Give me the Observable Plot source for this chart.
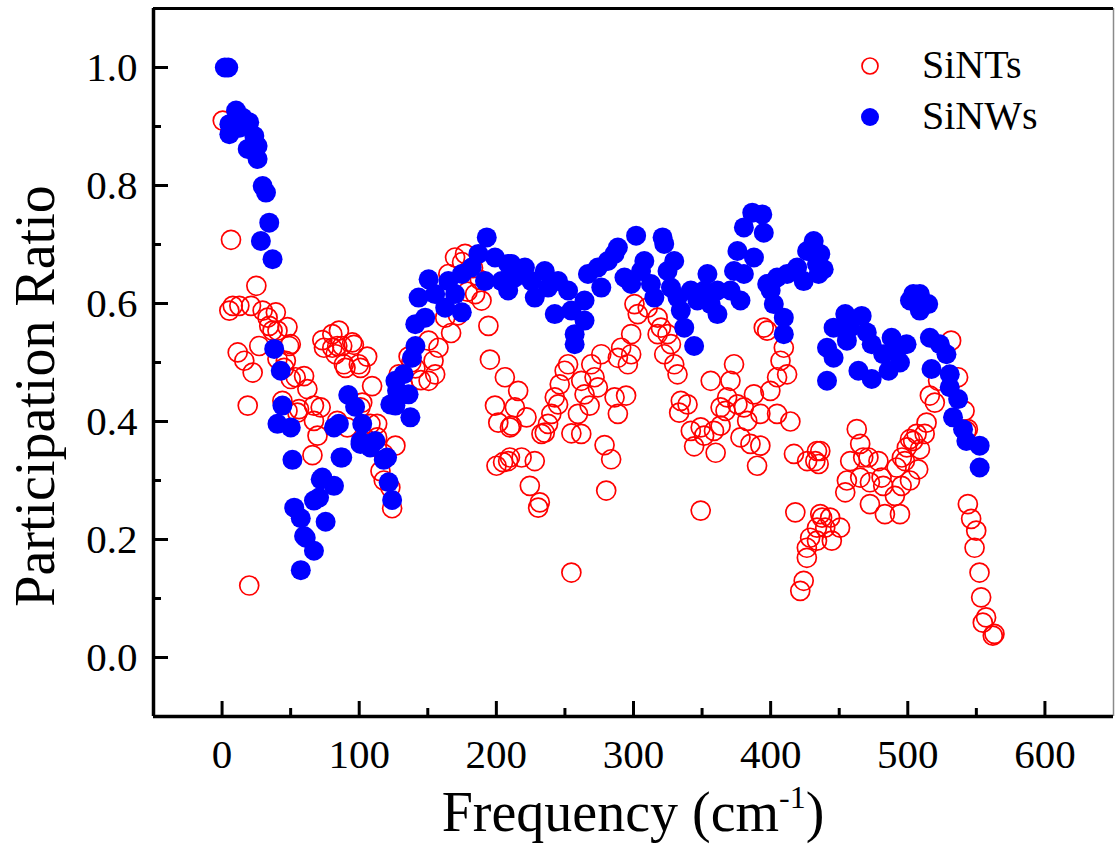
<!DOCTYPE html>
<html><head><meta charset="utf-8">
<script src="https://cdn.jsdelivr.net/npm/d3@7"></script>
<script src="https://cdn.jsdelivr.net/npm/@observablehq/plot@0.6"></script>
<style>
body{margin:0;background:#fff;}
#chart{position:relative;width:1115px;height:849px;}
#chart svg, #chart svg text{font-family:'Liberation Serif','Times New Roman',serif;}
</style></head><body><div id="chart"></div>
<script>
// SiNTs (open red circles)
const sintsFreq = [0.5,6.5,25,5.3,7.8,12.6,21.1,29.6,39.2,33.2,34.4,36.8,40.4,47.7,50.1,27.1,11.4,16.2,22.3,40.4,45.2,50.1,59.8,62.2,53.7,54.9,47.7,44.0,56.1,67.0,71.9,67.0,69.6,65.9,18.7,73.1,80.4,85.2,84.0,80.4,74.3,87.6,94.9,96.1,88.8,82.8,90.0,99.7,100.9,105.8,109.4,102.2,100.9,108.2,113.1,113.1,117.9,126.4,115.5,117.9,122.7,124.0,84.0,91.3,19.8,128.8,150.6,155.4,154.2,157.8,150.6,162.7,165.0,169.9,177.2,184.5,189.2,194.2,195.3,206.2,199.0,201.4,209.9,200.1,204.9,209.9,215.9,213.5,222.0,211.1,218.4,228.0,208.6,224.4,231.7,230.5,235.3,237.7,240.1,245.0,242.6,246.2,249.8,252.3,232.9,254.7,261.9,259.5,268.0,264.3,261.9,269.2,271.6,274.0,276.5,278.9,283.7,280.1,254.7,286.2,294.6,288.6,288.6,291.0,295.9,298.3,298.3,300.7,303.1,310.4,317.6,320.0,317.6,324.8,322.4,327.3,329.7,332.1,334.5,339.4,333.3,341.8,349.0,344.2,351.5,358.7,363.5,359.9,356.3,373.3,370.7,368.3,363.5,367.1,375.8,380.5,387.8,382.9,392.5,404.7,414.4,378.0,385.3,392.5,390.1,399.8,404.7,412.0,407.2,397.5,395.0,409.6,417.0,433.8,426.6,432.6,349.0,418.0,437.5,433.8,428.8,426.4,426.4,424.1,421.6,531.6,536.7,522.1,516.1,519.7,513.7,506.4,501.6,508.9,499.3,495.7,507.6,491.8,541.4,543.8,462.8,465.3,471.3,478.6,458.0,436.2,435.0,467.5,455.6,454.4,465.3,472.4,480.9,482.1,472.4,483.3,494.3,490.6,495.5,501.6,497.9,503.9,512.3,436.2,443.4,450.6,439.8,444.6,433.8,542.7,543.8,546.2,549.9,548.7,552.3,553.5,557.1,554.7,563.2,562.0,167,172,179,183,175,188,138,132,46.5,48.9,141,145,136];
const sintsPR = [0.910,0.708,0.630,0.588,0.596,0.596,0.596,0.588,0.585,0.576,0.562,0.554,0.554,0.560,0.531,0.528,0.517,0.503,0.483,0.506,0.491,0.472,0.477,0.455,0.475,0.415,0.418,0.435,0.421,0.427,0.424,0.401,0.376,0.343,0.427,0.538,0.548,0.554,0.528,0.525,0.525,0.528,0.534,0.530,0.497,0.514,0.491,0.497,0.491,0.510,0.460,0.432,0.424,0.396,0.396,0.373,0.345,0.359,0.316,0.300,0.288,0.253,0.401,0.390,0.122,0.480,0.469,0.480,0.503,0.525,0.537,0.576,0.650,0.678,0.684,0.616,0.605,0.562,0.505,0.475,0.427,0.398,0.390,0.325,0.331,0.339,0.452,0.424,0.407,0.393,0.339,0.333,0.333,0.291,0.263,0.254,0.381,0.396,0.413,0.429,0.441,0.463,0.486,0.497,0.379,0.380,0.379,0.413,0.427,0.446,0.469,0.497,0.475,0.458,0.514,0.360,0.336,0.283,0.144,0.441,0.444,0.413,0.508,0.525,0.497,0.514,0.548,0.599,0.582,0.593,0.576,0.559,0.548,0.548,0.514,0.531,0.497,0.480,0.435,0.429,0.415,0.384,0.390,0.358,0.376,0.384,0.393,0.347,0.469,0.497,0.469,0.441,0.424,0.418,0.429,0.424,0.446,0.401,0.413,0.413,0.400,0.373,0.362,0.359,0.325,0.452,0.475,0.480,0.503,0.554,0.559,0.525,0.345,0.350,0.333,0.333,0.249,0.246,0.237,0.220,0.203,0.186,0.169,0.130,0.113,0.537,0.475,0.469,0.444,0.432,0.398,0.379,0.370,0.353,0.356,0.339,0.319,0.322,0.418,0.387,0.387,0.362,0.339,0.333,0.333,0.350,0.328,0.339,0.300,0.280,0.305,0.297,0.305,0.291,0.260,0.243,0.243,0.274,0.291,0.300,0.333,0.367,0.379,0.243,0.237,0.220,0.220,0.198,0.198,0.384,0.260,0.235,0.215,0.186,0.144,0.102,0.068,0.059,0.040,0.037,0.550,0.580,0.620,0.660,0.670,0.640,0.500,0.460,0.503,0.528,0.490,0.470,0.510];

// SiNWs (filled blue dots)
const sinwsFreq = [2,4.5,10.2,5.3,5.3,15,19.8,12.6,23.5,25.9,18.7,25.9,29.6,32,34.4,28.3,36.8,38,42.8,44,40.4,50.1,51.3,92,81.6,97,101,86.4,108,117.9,121.5,124,126.4,122.7,71.9,67,52.6,57.4,75.5,59.8,67,57.4,81.6,85.2,102.2,87.6,100.9,111.8,120.3,73.1,70.7,61,141,138.5,132.4,127.6,136,126.4,137.3,193,186.9,199,208.6,182,174.8,165,150.6,191.7,203.8,208.6,155.4,143.3,169.9,162.7,174.8,148.1,140.9,211,213.5,220.8,225.6,228,235.3,237.7,245,242.6,252.3,254.7,264.3,264.3,257.1,257.1,266.8,274,276.5,281.3,288.6,286.2,301.9,293.4,298.3,307.9,305.5,312.7,315.2,321.2,322.4,329.7,324.8,327.3,332.1,334.5,337,344.2,341.8,346.6,353.9,351.5,361.2,361.2,356.3,370.7,378,373.3,375.8,380.5,387.8,380.5,386.6,393.9,395,397.5,400,402.3,409.6,409.6,404.7,412,419.3,424.1,426.6,431.4,433.8,441.1,441.1,436.2,438.7,435,504,508.8,501.6,514.9,508.8,454.4,466.4,445.9,458,470.1,445.9,455.6,473.7,488.2,499.1,491.8,482.1,494.3,464,473.7,486,516.1,523.4,528.2,517.3,530.6,530.6,536.7,533,540.3,542.7,552.4,552.4];
const sinwsPR = [1.0,1.0,0.927,0.904,0.887,0.915,0.907,0.898,0.884,0.867,0.862,0.845,0.799,0.788,0.737,0.706,0.675,0.523,0.486,0.427,0.396,0.390,0.335,0.445,0.390,0.425,0.367,0.339,0.356,0.335,0.297,0.267,0.469,0.429,0.302,0.266,0.254,0.236,0.230,0.206,0.181,0.148,0.291,0.396,0.396,0.339,0.362,0.367,0.339,0.305,0.271,0.203,0.528,0.508,0.480,0.452,0.446,0.427,0.407,0.712,0.684,0.678,0.667,0.661,0.650,0.638,0.641,0.638,0.638,0.622,0.616,0.610,0.616,0.593,0.585,0.576,0.565,0.667,0.644,0.661,0.638,0.610,0.655,0.627,0.638,0.582,0.622,0.588,0.605,0.571,0.548,0.531,0.650,0.661,0.627,0.672,0.695,0.684,0.715,0.644,0.633,0.672,0.655,0.633,0.610,0.712,0.701,0.672,0.655,0.627,0.610,0.588,0.559,0.528,0.622,0.605,0.650,0.622,0.622,0.582,0.599,0.622,0.605,0.655,0.689,0.650,0.678,0.729,0.754,0.751,0.720,0.633,0.622,0.599,0.576,0.548,0.644,0.650,0.661,0.638,0.689,0.706,0.667,0.525,0.469,0.684,0.658,0.650,0.616,0.616,0.605,0.599,0.588,0.582,0.579,0.559,0.559,0.551,0.508,0.537,0.531,0.542,0.531,0.520,0.514,0.500,0.486,0.472,0.486,0.542,0.531,0.514,0.489,0.480,0.458,0.438,0.407,0.387,0.367,0.359,0.322];

const seriesNames = ["SiNTs", "SiNWs"];
const seriesColors = ["#ff0000", "#0000ff"];
const xDomain = [-50, 650];
const yDomain = [-0.1, 1.1];
const xMajorTicks = [0, 100, 200, 300, 400, 500, 600];
const xMinorTicks = [50, 150, 250, 350, 450, 550];
const yMajorTicks = [0, 0.2, 0.4, 0.6, 0.8, 1.0];
const yMinorTicks = [0.1, 0.3, 0.5, 0.7, 0.9];
const xTitle = "Frequency (cm";
const xTitleSup = "-1";
const yTitle = "Participation Ratio";

const sints = sintsFreq.map((f, i) => ({freq: f, pr: sintsPR[i]}));
const sinws = sinwsFreq.map((f, i) => ({freq: f, pr: sinwsPR[i]}));

const FONT = "'Liberation Serif', 'Times New Roman', serif";

const plot = Plot.plot({
  width: 1115, height: 849,
  marginLeft: 153, marginRight: 2, marginTop: 8, marginBottom: 133,
  style: `font-family: ${FONT}; font-size: 41px; color: #000; background: #fff; overflow: visible;`,
  x: {domain: xDomain},
  y: {domain: yDomain},
  marks: [
    Plot.dot(sints, {x: "freq", y: "pr", r: 9.5, stroke: seriesColors[0], strokeWidth: 1.7, fill: "none"}),
    Plot.dot(sinws, {x: "freq", y: "pr", r: 10, fill: seriesColors[1], stroke: "none"}),
    Plot.axisX(xMajorTicks, {tickSize: -15, tickPadding: 37, strokeWidth: 3, label: null, fontSize: 41, fontFamily: FONT, tickFormat: d => String(d)}),
    Plot.axisX(xMinorTicks, {tickSize: -8, strokeWidth: 3, label: null, tickFormat: () => ""}),
    Plot.axisY(yMajorTicks, {tickSize: -15, tickPadding: 31, strokeWidth: 3, label: null, fontSize: 41, fontFamily: FONT, tickFormat: d => d.toFixed(1)}),
    Plot.axisY(yMinorTicks, {tickSize: -8, strokeWidth: 3, label: null, tickFormat: () => ""}),
    Plot.ruleX([xDomain[1]], {stroke: "#8a8a8a", strokeWidth: 1.5}),
    Plot.ruleY([yDomain[1]], {stroke: "#000", strokeWidth: 3}),
    Plot.ruleX([xDomain[0]], {stroke: "#000", strokeWidth: 3.5}),
    Plot.ruleY([yDomain[0]], {stroke: "#000", strokeWidth: 3.5})
  ]
});

document.getElementById("chart").appendChild(plot);

const svg = d3.select(plot);
// axis titles
const xt = svg.append("text")
  .attr("x", 633).attr("y", 831)
  .attr("text-anchor", "middle")
  .style("font-family", FONT).style("font-size", "56px").attr("fill", "#000");
xt.append("tspan").text(xTitle);
xt.append("tspan").attr("dy", -23).style("font-size", "32px").text(xTitleSup);
xt.append("tspan").attr("dy", 23).text(")");

svg.append("text")
  .attr("transform", "translate(54,396) rotate(-90)")
  .attr("text-anchor", "middle")
  .style("font-family", FONT).style("font-size", "56px").attr("fill", "#000")
  .text(yTitle);

// legend
const lg = svg.append("g").attr("text-anchor", "start");
lg.append("circle").attr("cx", 870).attr("cy", 66).attr("r", 8)
  .attr("fill", "none").attr("stroke", seriesColors[0]).attr("stroke-width", 1.7);
lg.append("circle").attr("cx", 870).attr("cy", 117).attr("r", 9)
  .attr("fill", seriesColors[1]);
lg.append("text").attr("x", 922).attr("y", 78).attr("text-anchor", "start")
  .style("font-family", FONT).style("font-size", "40px").attr("fill", "#000").text(seriesNames[0]);
lg.append("text").attr("x", 922).attr("y", 129).attr("text-anchor", "start")
  .style("font-family", FONT).style("font-size", "40px").attr("fill", "#000").text(seriesNames[1]);
</script>
</body></html>
